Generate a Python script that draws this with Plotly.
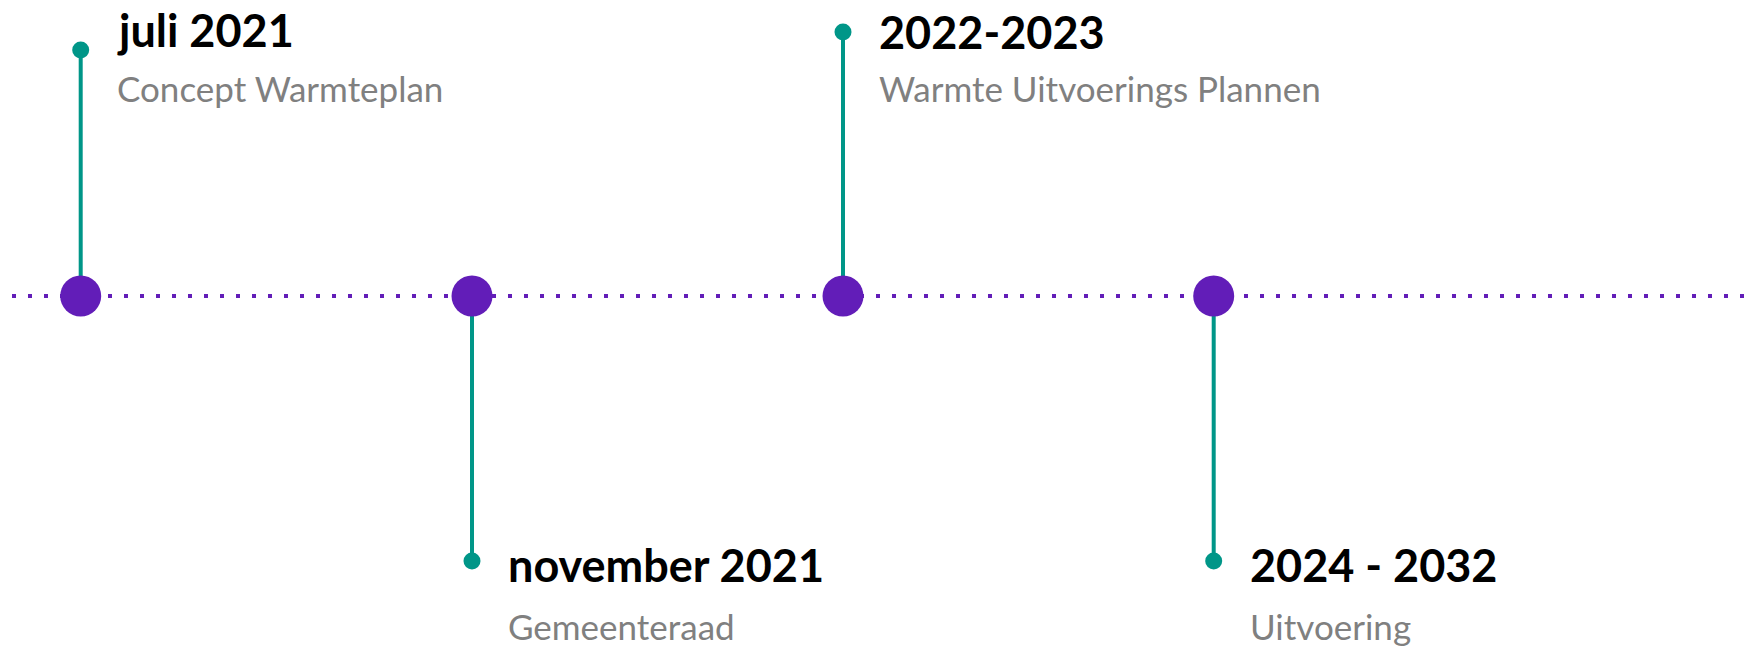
import plotly.graph_objects as go

# ---- data ----
titles = ["juli 2021", "november 2021", "2022-2023", "2024 - 2032"]
subtitles = ["Concept Warmteplan", "Gemeenteraad", "Warmte Uitvoerings Plannen", "Uitvoering"]
positions = [80.7, 472, 843, 1213.7]          # position along the timeline
stem_lengths = [246, -265, 264, -265]          # + above line, - below line

# ---- style ----
PURPLE = "#621db8"
TEAL = "#009688"
GREY = "#808080"
W, H = 1756, 646
LINE_Y = 296   # pixel row of the timeline (from top of window)
PAGE_MARGIN = 8  # default body margin of the html page

# text placement (offsets from the timeline), per event
title_y = [266, -269, 264, -269]
sub_y = [208, -330, 208, -330]
TEXT_DX = 34

fig = go.Figure()

# dotted timeline
fig.add_trace(go.Scatter(
    x=[12, 1746], y=[0, 0], mode="lines",
    line=dict(color=PURPLE, width=4, dash="4px,12px"),
    hoverinfo="skip", showlegend=False))

# stems
for x, s in zip(positions, stem_lengths):
    fig.add_trace(go.Scatter(
        x=[x, x], y=[0, s], mode="lines",
        line=dict(color=TEAL, width=4),
        hoverinfo="skip", showlegend=False))

# stem end dots
fig.add_trace(go.Scatter(
    x=positions, y=stem_lengths, mode="markers",
    marker=dict(color=TEAL, size=17, line=dict(width=0)),
    hoverinfo="skip", showlegend=False))

# big timeline circles
fig.add_trace(go.Scatter(
    x=positions, y=[0] * len(positions), mode="markers",
    marker=dict(color=PURPLE, size=41, line=dict(width=0)),
    hoverinfo="skip", showlegend=False))

for i, x in enumerate(positions):
    fig.add_annotation(
        x=x + TEXT_DX, y=title_y[i], text="<b>" + titles[i] + "</b>",
        xref="x", yref="y", xanchor="left", yanchor="middle", showarrow=False,
        font=dict(family="Lato", size=45, color="#000000"))
    fig.add_annotation(
        x=x + TEXT_DX, y=sub_y[i], text=subtitles[i],
        xref="x", yref="y", xanchor="left", yanchor="middle", showarrow=False,
        font=dict(family="Lato", size=35, color=GREY))

fig.update_layout(
    width=W, height=H,
    margin=dict(l=0, r=0, t=0, b=0),
    paper_bgcolor="white", plot_bgcolor="white",
    xaxis=dict(range=[PAGE_MARGIN, W + PAGE_MARGIN], visible=False, fixedrange=True),
    yaxis=dict(range=[LINE_Y - PAGE_MARGIN - H, LINE_Y - PAGE_MARGIN],
               visible=False, fixedrange=True),
)

fig.write_html("out.html")
